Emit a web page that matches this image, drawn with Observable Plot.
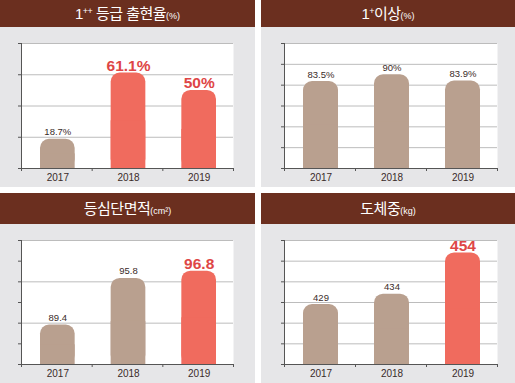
<!DOCTYPE html>
<html>
<head>
<meta charset="utf-8">
<script src="https://cdn.jsdelivr.net/npm/d3@7"></script>
<script src="https://cdn.jsdelivr.net/npm/@observablehq/plot@0.6"></script>
<style>
  html, body { margin: 0; padding: 0; background: #ffffff; }
  body { width: 515px; height: 383px; position: relative; overflow: hidden;
         font-family: "Liberation Sans", "Noto Sans CJK KR", sans-serif; }
  .panel { position: absolute; }
  .hdr { background: #6b2f1f; color: #ffffff; text-align: center; font-size: 15px;
         letter-spacing: -0.5px; box-sizing: border-box; }
  .hdr small { font-size: 9px; letter-spacing: 0; }
  .hdr sup { font-size: 9px; vertical-align: 5px; line-height: 0; }
  .body { background: #e6e6e8; }
  .body svg { display: block; }
</style>
</head>
<body>
<script>
// ---- data ----
const years = ["2017", "2018", "2019"];

const titles = [
  '1<sup>++</sup> 등급 출현율<small>(%)</small>',
  '1<sup>+</sup>이상<small>(%)</small>',
  '등심단면적<small>(cm²)</small>',
  '도체중<small>(kg)</small>'
];

const gradeValues = [18.7, 61.1, 50];
const gradeLabels = ["18.7%", "61.1%", "50%"];
const gradeHighlight = [false, true, true];

const plusValues = [83.5, 90, 83.9];
const plusLabels = ["83.5%", "90%", "83.9%"];
const plusHighlight = [false, false, false];

const areaValues = [89.4, 95.8, 96.8];
const areaLabels = ["89.4", "95.8", "96.8"];
const areaHighlight = [false, false, true];

const weightValues = [429, 434, 454];
const weightLabels = ["429", "434", "454"];
const weightHighlight = [false, false, true];

const yDomains = [[0, 80], [0, 120], [84, 101], [400, 460]];
const yTickCounts = [4, 6, 6, 6];
const gridEvery = [1, 1, 2, 1];

// ---- layout ----
const layout = [
  {left: 0,   top: 0,   w: 255, hh: 27, bh: 160, ml: 21, mr: 22},
  {left: 261, top: 0,   w: 254, hh: 27, bh: 160, ml: 23, mr: 18},
  {left: 0,   top: 193, w: 255, hh: 31, bh: 159, ml: 21, mr: 22},
  {left: 261, top: 193, w: 254, hh: 31, bh: 159, ml: 23, mr: 18}
];

const series = [
  [gradeValues, gradeLabels, gradeHighlight],
  [plusValues, plusLabels, plusHighlight],
  [areaValues, areaLabels, areaHighlight],
  [weightValues, weightLabels, weightHighlight]
];

const TAN = "#b9a08f", RED = "#f06b5e", RED_TEXT = "#de4646", DARK = "#3a2b28";
const FONT = "'Liberation Sans', 'Noto Sans CJK KR', sans-serif";

series.forEach(([vals, labels, hl], k) => {
  const L = layout[k];
  const [lo, hi] = yDomains[k];
  const n = yTickCounts[k];
  const yTicks = d3.range(n + 1).map(i => lo + i * (hi - lo) / n);
  const gridTicks = yTicks.filter((t, i) => i > 0 && i % gridEvery[k] === 0);
  const data = years.map((y, i) => ({i, year: y, value: vals[i], label: labels[i], hl: hl[i]}));

  const panel = document.createElement("div");
  panel.className = "panel";
  panel.style.left = L.left + "px";
  panel.style.top = L.top + "px";
  panel.style.width = L.w + "px";
  const hdr = document.createElement("div");
  hdr.className = "hdr";
  hdr.style.height = L.hh + "px";
  hdr.style.lineHeight = L.hh + "px";
  hdr.innerHTML = titles[k];
  const body = document.createElement("div");
  body.className = "body";
  body.style.height = L.bh + "px";
  panel.appendChild(hdr);
  panel.appendChild(body);
  document.body.appendChild(panel);

  const chart = Plot.plot({
    width: L.w,
    height: L.bh,
    marginLeft: L.ml,
    marginRight: L.mr,
    marginTop: 16,
    marginBottom: 19,
    style: {background: "transparent", fontFamily: FONT, color: DARK},
    x: {domain: [0, 3]},
    y: {domain: [lo, hi]},
    marks: [
      Plot.frame({fill: "#ffffff"}),
      Plot.ruleY([hi], {stroke: "#d6d6d6", strokeWidth: 1}),
      Plot.ruleY(gridTicks, {stroke: "#bcbcbc", strokeWidth: 1}),
      Plot.rectY(data, {x1: d => d.i, x2: d => d.i + 1, y1: lo, y2: "value",
        insetLeft: 19, insetRight: 17, rx: 9, fill: d => d.hl ? RED : TAN}),
      Plot.rectY(data, {x1: d => d.i, x2: d => d.i + 1, y1: lo, y2: d => (lo + d.value) / 2,
        insetLeft: 19, insetRight: 17, fill: d => d.hl ? RED : TAN}),
      Plot.ruleX([0], {stroke: "#555"}),
      Plot.ruleY([lo], {stroke: "#555"}),
      Plot.axisY({ticks: yTicks, tickSize: 3, tickFormat: () => "", label: null, stroke: "#555"}),
      Plot.axisX({ticks: [0, 1, 2, 3], tickSize: 3, tickFormat: () => "", label: null, stroke: "#555"}),
      Plot.text(data, {x: d => d.i + 0.5, y: lo, text: "year", dy: 9, dx: 1, fontSize: 10, fill: DARK}),
      Plot.text(data.filter(d => !d.hl), {x: d => d.i + 0.5, y: "value", text: "label",
        lineAnchor: "bottom", dy: -4, dx: 1, fontSize: 9.5, fill: DARK, letterSpacing: "-0.5px"}),
      Plot.text(data.filter(d => d.hl), {x: d => d.i + 0.5, y: "value", text: "label",
        lineAnchor: "bottom", dy: -2, dx: 1, fontSize: 15.5, fontWeight: "bold", fill: RED_TEXT})
    ]
  });
  body.appendChild(chart);
});
</script>
</body>
</html>
